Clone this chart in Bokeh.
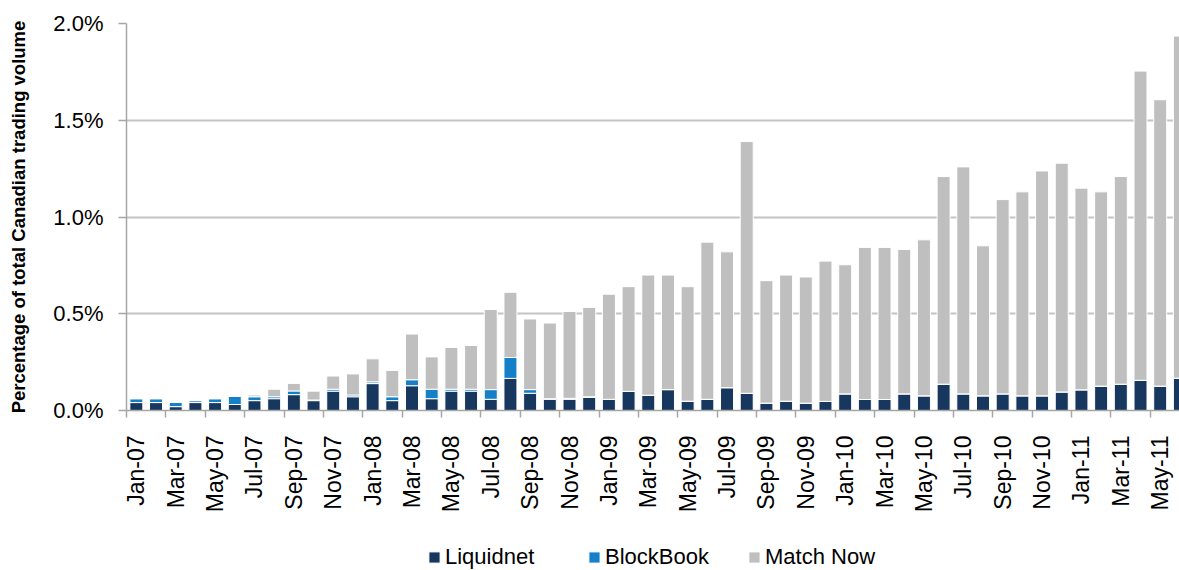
import math
from bokeh.plotting import figure
from bokeh.layouts import column
from bokeh.models import (ColumnDataSource, Range1d, FixedTicker, PrintfTickFormatter,
                          Legend, LegendItem)
from bokeh.embed import file_html
from bokeh.resources import INLINE

months = [
    "Jan-07", "Feb-07", "Mar-07", "Apr-07", "May-07", "Jun-07", "Jul-07", "Aug-07", "Sep-07", "Oct-07", "Nov-07", "Dec-07",
    "Jan-08", "Feb-08", "Mar-08", "Apr-08", "May-08", "Jun-08", "Jul-08", "Aug-08", "Sep-08", "Oct-08", "Nov-08", "Dec-08",
    "Jan-09", "Feb-09", "Mar-09", "Apr-09", "May-09", "Jun-09", "Jul-09", "Aug-09", "Sep-09", "Oct-09", "Nov-09", "Dec-09",
    "Jan-10", "Feb-10", "Mar-10", "Apr-10", "May-10", "Jun-10", "Jul-10", "Aug-10", "Sep-10", "Oct-10", "Nov-10", "Dec-10",
    "Jan-11", "Feb-11", "Mar-11", "Apr-11", "May-11", "Jun-11",
]

tick_labels = months[::2]

# values in % of total Canadian trading volume
liquidnet = [0.041, 0.041, 0.020, 0.041, 0.041, 0.031, 0.051, 0.061, 0.082, 0.051,
             0.100, 0.071, 0.139, 0.051, 0.128, 0.061, 0.100, 0.100, 0.058, 0.166,
             0.089, 0.058, 0.058, 0.068, 0.058, 0.099, 0.079, 0.108, 0.048, 0.058,
             0.118, 0.089, 0.038, 0.048, 0.038, 0.047, 0.086, 0.057, 0.057, 0.086,
             0.076, 0.136, 0.086, 0.076, 0.086, 0.076, 0.076, 0.096, 0.107, 0.126,
             0.136, 0.156, 0.126, 0.167]

blockbook = [0.020, 0.020, 0.022, 0.010, 0.020, 0.043, 0.020, 0.010, 0.019, 0.003,
             0.010, 0.009, 0.009, 0.020, 0.031, 0.049, 0.010, 0.010, 0.050, 0.108,
             0.019, 0.003, 0.005, 0.003, 0.0, 0.0, 0.0, 0.0, 0.0, 0.0,
             0.0, 0.0, 0.0, 0.0, 0.0, 0.0, 0.0, 0.0, 0.0, 0.0,
             0.0, 0.0, 0.0, 0.0, 0.0, 0.0, 0.0, 0.0, 0.0, 0.0,
             0.0, 0.0, 0.0, 0.0]

matchnow = [0.0, 0.0, 0.0, 0.0, 0.0, 0.0, 0.009, 0.039, 0.039, 0.046,
            0.068, 0.109, 0.119, 0.136, 0.236, 0.167, 0.216, 0.226, 0.414, 0.337,
            0.365, 0.391, 0.449, 0.462, 0.543, 0.541, 0.621, 0.592, 0.592, 0.812,
            0.702, 1.301, 0.633, 0.652, 0.652, 0.725, 0.667, 0.786, 0.786, 0.746,
            0.806, 1.073, 1.173, 0.775, 1.004, 1.054, 1.162, 1.182, 1.042, 1.004,
            1.073, 1.598, 1.480, 1.768]

series_names = ["Liquidnet", "BlockBook", "Match Now"]
colors = ["#17375e", "#1580c8", "#bfbfbf"]
stack_cols = ["liquidnet", "blockbook", "matchnow"]

FONT = "Liberation Sans"
GRAY_AXIS = "#a6a6a6"

src = ColumnDataSource(dict(x=list(range(len(months))), liquidnet=liquidnet,
                            blockbook=blockbook, matchnow=matchnow))

p = figure(width=1179, height=530, output_backend="svg", toolbar_location=None,
           x_range=Range1d(-0.5, 52.98), y_range=Range1d(0, 2.0),
           min_border_left=126, min_border_right=0, min_border_top=23, min_border_bottom=120)
p.outline_line_color = None
p.background_fill_color = "white"
p.border_fill_color = "white"

rs = p.vbar_stack(stack_cols, x="x", width=0.66, source=src,
                  fill_color=colors, line_color="white", line_width=1)

# x axis
xa = p.xaxis[0]
xa.ticker = FixedTicker(ticks=list(range(0, len(months), 2)),
                        minor_ticks=[i - 0.5 for i in range(0, len(months) + 1, 2)])
xa.major_label_overrides = {i: months[i] for i in range(0, len(months), 2)}
xa.major_label_orientation = math.pi / 2
xa.major_tick_out = 0
xa.major_tick_in = 0
xa.minor_tick_out = 7
xa.minor_tick_in = 0
xa.minor_tick_line_color = GRAY_AXIS
xa.minor_tick_line_width = 1.5
xa.axis_line_color = GRAY_AXIS
xa.axis_line_width = 1.5
xa.major_label_standoff = 18
xa.major_label_text_font = FONT
xa.major_label_text_font_size = "23px"
xa.major_label_text_color = "black"

# y axis
ya = p.yaxis[0]
ya.ticker = FixedTicker(ticks=[0, 0.5, 1.0, 1.5, 2.0])
ya.formatter = PrintfTickFormatter(format="%.1f%%")
ya.major_tick_out = 8
ya.major_tick_in = 0
ya.minor_tick_out = 0
ya.minor_tick_in = 0
ya.major_tick_line_color = GRAY_AXIS
ya.major_tick_line_width = 1.5
ya.axis_line_color = GRAY_AXIS
ya.axis_line_width = 1.5
ya.major_label_standoff = 15
ya.major_label_text_font = FONT
ya.major_label_text_font_size = "22px"
ya.major_label_text_color = "black"
ya.axis_label = "Percentage of total Canadian trading volume"
ya.axis_label_text_font = FONT
ya.axis_label_text_font_size = "18.5px"
ya.axis_label_text_font_style = "bold"
ya.axis_label_text_color = "black"
ya.axis_label_standoff = 21

p.xgrid.visible = False
p.ygrid.ticker = FixedTicker(ticks=[0.5, 1.0, 1.5, 2.0])
p.ygrid.grid_line_color = "#c4c4c4"
p.ygrid.grid_line_width = 2

# legend strip below the chart (same series, drawn off-range so only the legend shows)
lg = figure(width=1179, height=40, output_backend="svg", toolbar_location=None,
            x_range=Range1d(-1000, -999), y_range=Range1d(0, 1),
            x_axis_type=None, y_axis_type=None,
            min_border_left=0, min_border_right=0, min_border_top=0, min_border_bottom=0)
lg.outline_line_color = None
lg.xgrid.visible = False
lg.ygrid.visible = False
lrs = lg.vbar_stack(stack_cols, x="x", width=0.66, source=src,
                    fill_color=colors, line_color="white", line_width=1)

legend = Legend(items=[LegendItem(label=n, renderers=[r]) for n, r in zip(series_names, lrs)],
                orientation="horizontal", location=(301, 0),
                glyph_width=14, glyph_height=14, label_standoff=4, label_width=142,
                spacing=0, padding=0, margin=0,
                border_line_color=None, background_fill_alpha=0,
                label_text_font=FONT, label_text_font_size="22px", label_text_color="black")
lg.add_layout(legend, "center")

layout = column(p, lg, spacing=0)

html = file_html(layout, INLINE)
open("out.html", "w").write(html)
